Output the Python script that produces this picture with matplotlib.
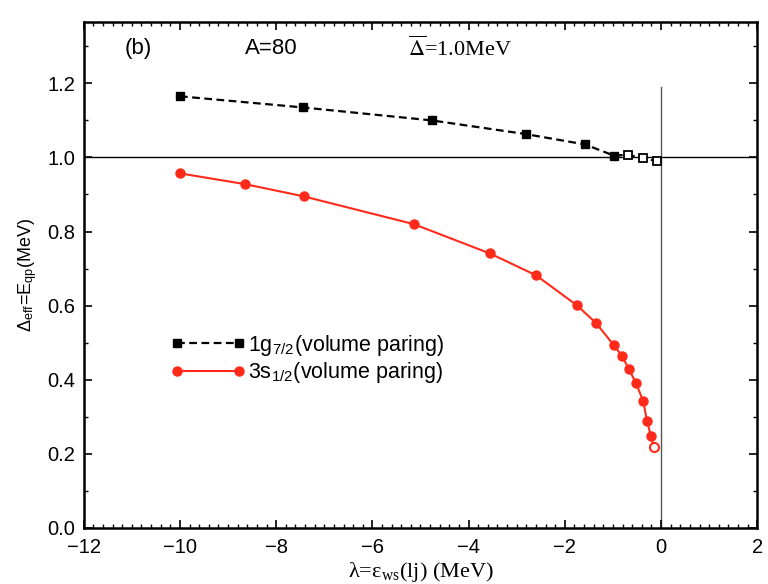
import matplotlib
matplotlib.use("Agg")
import matplotlib.pyplot as plt
from matplotlib.ticker import MultipleLocator

plt.rcParams['font.family'] = ['Liberation Sans', 'DejaVu Sans']
plt.rcParams['mathtext.fontset'] = 'stix'

# 1g7/2 (black squares), last three points open
g_x = [-10.0, -7.45, -4.77, -2.81, -1.58, -0.98, -0.69, -0.37, -0.08]
g_y = [1.165, 1.135, 1.100, 1.063, 1.035, 1.005, 1.007, 0.998, 0.990]
g_open = 3

# 3s1/2 (red circles), last point open
s_x = [-10.0, -8.65, -7.43, -5.14, -3.56, -2.60, -1.75, -1.35, -0.98, -0.81,
       -0.67, -0.52, -0.37, -0.29, -0.21, -0.15]
s_y = [0.957, 0.928, 0.895, 0.820, 0.741, 0.682, 0.601, 0.553, 0.493, 0.464,
       0.429, 0.391, 0.342, 0.288, 0.248, 0.218]
s_open = 1

red = '#ff2a1a'

fig = plt.figure(figsize=(7.68, 5.84), dpi=100)
ax = fig.add_axes([0.109, 0.096, 0.877, 0.866])

ax.axhline(1.0, color='k', lw=1.0, zorder=1)
ax.plot([0, 0], [0, 1.19], color='#555555', lw=1.0, zorder=1)

ax.plot(g_x, g_y, color='k', ls='--', lw=1.6, dashes=(3.5, 2), zorder=2)
ax.plot(g_x[:-g_open], g_y[:-g_open], 's', color='k', ms=5.5, ls='none', zorder=3)
ax.plot(g_x[-g_open:], g_y[-g_open:], 's', mfc='white', mec='k', mew=1.3, ms=5.5,
        ls='none', zorder=3)
ax.plot(s_x, s_y, color=red, lw=1.5, zorder=2)
ax.plot(s_x[:-s_open], s_y[:-s_open], 'o', color=red, ms=6.5, ls='none', zorder=3)
ax.plot(s_x[-s_open:], s_y[-s_open:], 'o', mfc='white', mec=red, mew=1.5, ms=6.5,
        ls='none', zorder=3)

# legend entries
lg1, = ax.plot([], [], color='k', ls='--', lw=1.6, dashes=(3.5, 2), marker='s', ms=5.5)
lg2, = ax.plot([], [], color=red, lw=1.5, marker='o', ms=6.5)
ax.legend([lg1, lg2],
          [r'1g$_{\mathregular{7/2}}$(volume paring)', r'3s$_{\mathregular{1/2}}$(volume paring)'],
          loc='upper left', bbox_to_anchor=(0.107, 0.416), frameon=False,
          fontsize=15.5, handlelength=3.45, handletextpad=0.15, labelspacing=0.12,
          numpoints=2, borderaxespad=0.3)

ax.text(-11.15, 1.294, '(b)', fontsize=16, va='center')
ax.text(-8.65, 1.294, 'A=80', fontsize=16, va='center')
ax.text(-5.25, 1.294, r'$\overline{\Delta}$=1.0MeV', fontsize=16, va='center',
        family='Liberation Serif')

ax.set_xlim(-12, 2)
ax.set_ylim(0, 1.365)
ax.xaxis.set_major_locator(MultipleLocator(2))
ax.xaxis.set_minor_locator(MultipleLocator(0.2))
ax.yaxis.set_major_locator(MultipleLocator(0.2))
ax.yaxis.set_minor_locator(MultipleLocator(0.1))
ax.yaxis.set_major_formatter(lambda v, p: f'{v:.1f}')
ax.tick_params(which='both', direction='in', top=True, right=True, labelsize=14.5)
ax.tick_params(which='major', length=6, width=1.2)
ax.tick_params(which='minor', length=3, width=1.0)
ax.tick_params(axis='x', pad=7)
ax.tick_params(axis='y', pad=6)
for sp in ax.spines.values():
    sp.set_linewidth(1.8)

ax.set_xlabel(r'λ=ε$_{\mathregular{ws}}$(lj) (MeV)', fontsize=16,
              family='Liberation Serif', labelpad=2.5)
ax.set_ylabel(r'Δ$_{\mathregular{eff}}$=E$_{\mathregular{qp}}$(MeV)', fontsize=13,
              labelpad=6)

fig.savefig('out.png', dpi=100)
